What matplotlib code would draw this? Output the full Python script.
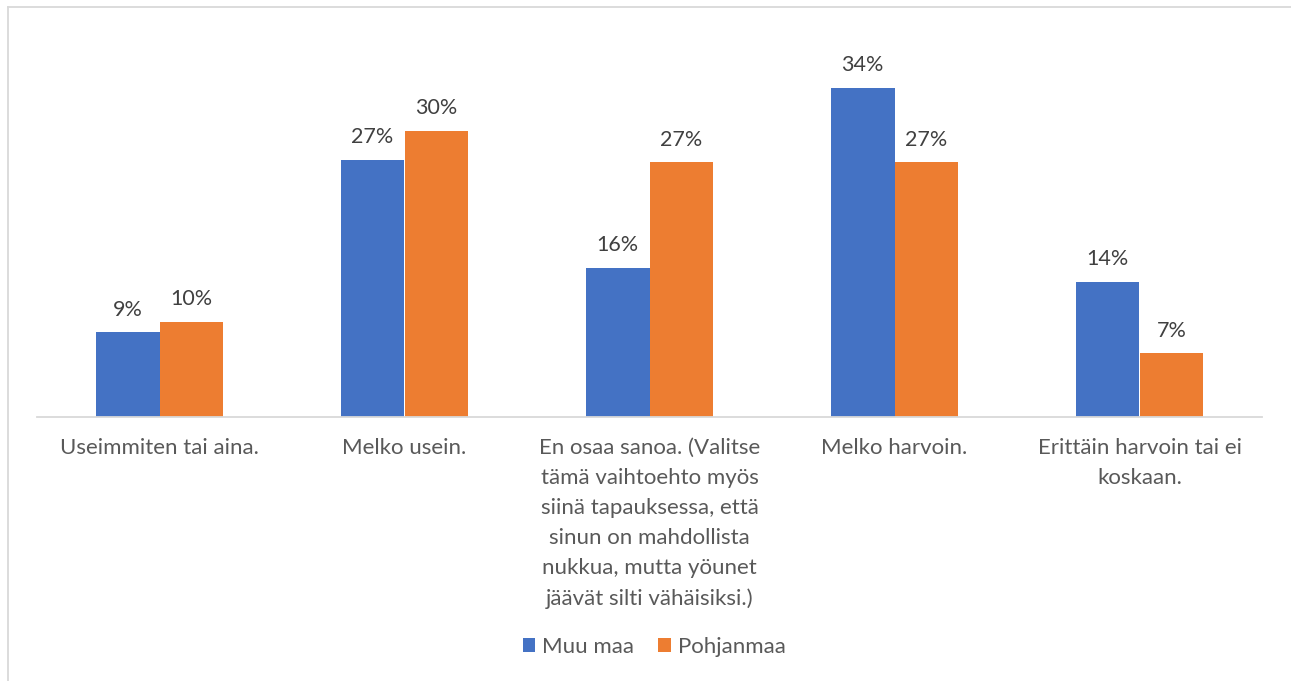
import numpy as np
import matplotlib.pyplot as plt
from matplotlib.lines import Line2D

# 데이터
categories = [
    'Useimmiten tai aina.',
    'Melko usein.',
    'En osaa sanoa. (Valitse\ntämä vaihtoehto myös\nsiinä tapauksessa, että\nsinun on mahdollista\nnukkua, mutta yöunet\njäävät silti vähäisiksi.)',
    'Melko harvoin.',
    'Erittäin harvoin tai ei\nkoskaan.',
]
series_names = ['Muu maa', 'Pohjanmaa']
muu_maa = [8.8, 26.9, 15.6, 34.4, 14.1]
pohjanmaa = [9.9, 29.9, 26.6, 26.6, 6.6]
colors = ['#4472C4', '#ED7D31']

plt.rcParams['font.family'] = ['Lato', 'DejaVu Sans']
text_color = '#595959'

fig = plt.figure(figsize=(12.91, 6.81), dpi=100)
ax = fig.add_axes([37 / 1291, 1 - 416.5 / 681, (1262 - 37) / 1291, 382 / 681])

x = np.arange(len(categories))
w = 0.261
for vals, name, c, off in [(muu_maa, series_names[0], colors[0], -w / 2),
                           (pohjanmaa, series_names[1], colors[1], w / 2)]:
    bars = ax.bar(x + off, vals, width=w, color=c, label=name)
    for b, v in zip(bars, vals):
        ax.annotate(f'{v:.0f}%', (b.get_x() + b.get_width() / 2, v),
                    xytext=(0, 16.5), textcoords='offset points',
                    ha='center', va='center', fontsize=15.5, color='#404040')

ax.set_xlim(-0.5, len(categories) - 0.5)
ax.set_ylim(0, 40)
ax.set_yticks([])
for s in ['top', 'right', 'left']:
    ax.spines[s].set_visible(False)
ax.spines['bottom'].set_color('#D9D9D9')
ax.spines['bottom'].set_linewidth(1.3)
ax.set_xticks(x)
ax.set_xticklabels(categories, fontsize=16, color=text_color, linespacing=1.62,
                   va='top')
ax.tick_params(axis='x', length=0, pad=15.5)

ax.legend(loc='center', bbox_to_anchor=(654 / 1291, 1 - 647 / 681),
          bbox_transform=fig.transFigure, ncol=2, frameon=False,
          fontsize=16, labelcolor=text_color, handlelength=0.55,
          handleheight=0.55, handletextpad=0.32, columnspacing=1.1)

# 외곽선 (왼쪽, 위쪽)
fig.add_artist(Line2D([7.5 / 1291, 7.5 / 1291], [0, 1 - 6.5 / 681],
                      transform=fig.transFigure, color='#D9D9D9', lw=1.3))
fig.add_artist(Line2D([7.5 / 1291, 1], [1 - 6.5 / 681, 1 - 6.5 / 681],
                      transform=fig.transFigure, color='#D9D9D9', lw=1.3))

fig.savefig('out.png', dpi=100)
